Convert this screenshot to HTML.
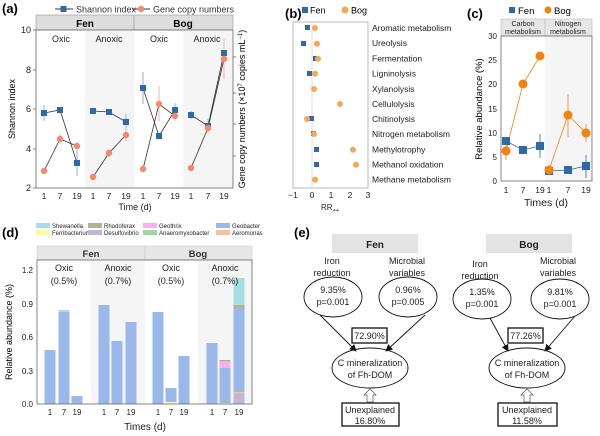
<!DOCTYPE html>
<html><head><meta charset="utf-8"><style>
body{margin:0;background:#fff}
svg{font-family:"Liberation Sans",sans-serif;display:block}
</style></head><body>
<svg width="600" height="436" viewBox="0 0 600 436" xmlns="http://www.w3.org/2000/svg">
<defs>
<marker id="ar" markerWidth="8" markerHeight="8" refX="7" refY="4" orient="auto"><path d="M0,0 L8,4 L0,8 z" fill="#111"/></marker>
</defs>
<!-- ===== Panel a ===== -->
<text x="2" y="13" font-size="13" font-weight="bold">(a)</text>
<line x1="55" y1="9" x2="73" y2="9" stroke="#333"/><rect x="60.5" y="6" width="6" height="6" fill="#2e6aa5"/>
<text x="76" y="12.5" font-size="9" fill="#333">Shannon index</text>
<line x1="132" y1="9" x2="150" y2="9" stroke="#333"/><circle cx="141" cy="9" r="3.2" fill="#f4896f"/>
<text x="153" y="12.5" font-size="9" fill="#333">Gene copy numbers</text>
<rect x="36" y="15" width="98" height="15" fill="#ddd" stroke="#999" stroke-width="0.6"/>
<rect x="134" y="15" width="99" height="15" fill="#ddd" stroke="#999" stroke-width="0.6"/>
<text x="85" y="27" font-size="10" font-weight="bold" text-anchor="middle">Fen</text>
<text x="183" y="27" font-size="10" font-weight="bold" text-anchor="middle">Bog</text>
<rect x="85" y="30" width="49" height="158" fill="#f5f5f5"/>
<rect x="183" y="30" width="50" height="158" fill="#f5f5f5"/>
<rect x="36" y="30" width="197" height="158" fill="none" stroke="#666" stroke-width="0.8"/>
<g font-size="9" fill="#222" text-anchor="middle">
<text x="61" y="42">Oxic</text><text x="109" y="42">Anoxic</text><text x="159" y="42">Oxic</text><text x="207" y="42">Anoxic</text>
</g>
<g font-size="9" fill="#222" text-anchor="end">
<text x="31" y="33">10</text><text x="31" y="73">8</text><text x="31" y="112">6</text><text x="31" y="152">4</text><text x="31" y="191">2</text>
</g>
<g stroke="#666" stroke-width="0.8">
<line x1="33" y1="30" x2="36" y2="30"/><line x1="33" y1="70" x2="36" y2="70"/><line x1="33" y1="109" x2="36" y2="109"/><line x1="33" y1="149" x2="36" y2="149"/><line x1="33" y1="188" x2="36" y2="188"/>
<line x1="233" y1="57" x2="236" y2="57"/><line x1="233" y1="93" x2="236" y2="93"/><line x1="233" y1="124" x2="236" y2="124"/><line x1="233" y1="156" x2="236" y2="156"/>
</g>
<text transform="translate(15,109) rotate(-90)" font-size="9" text-anchor="middle">Shannon index</text>
<text transform="translate(245,109) rotate(-90)" font-size="9" text-anchor="middle">Gene copy numbers (×10<tspan font-size="6" dy="-3">7</tspan><tspan dy="3"> copies mL</tspan><tspan font-size="6" dy="-3">−1</tspan><tspan dy="3">)</tspan></text>
<g font-size="8.5" text-anchor="middle" fill="#222">
<text x="44" y="199">1</text><text x="60" y="199">7</text><text x="77" y="199">19</text>
<text x="93" y="199">1</text><text x="109" y="199">7</text><text x="126" y="199">19</text>
<text x="143" y="199">1</text><text x="159" y="199">7</text><text x="175" y="199">19</text>
<text x="191" y="199">1</text><text x="208" y="199">7</text><text x="224" y="199">19</text>
<text x="135" y="210" font-size="9">Time (d)</text>
</g>
<g stroke="#333" stroke-width="0.8" fill="none">
<polyline points="44,113 60,110 77,163"/><polyline points="93,111 109,112 126,122"/><polyline points="143,88 159,136 175,110"/><polyline points="191,115 208,126 224,53"/>
<polyline points="44,171 60,139 77,146"/><polyline points="93,177 109,153 126,135"/><polyline points="143,169 159,104 175,116"/><polyline points="191,168 208,128 224,59"/>
</g>
<g stroke="#8fb2d6" stroke-width="1">
<line x1="44" y1="105" x2="44" y2="121"/><line x1="60" y1="107" x2="60" y2="113"/><line x1="77" y1="150" x2="77" y2="176"/><line x1="126" y1="114" x2="126" y2="130"/>
<line x1="143" y1="72" x2="143" y2="104"/><line x1="175" y1="103" x2="175" y2="117"/><line x1="191" y1="111" x2="191" y2="119"/><line x1="208" y1="119" x2="208" y2="133"/><line x1="224" y1="49" x2="224" y2="57"/>
</g>
<g stroke="#f7b3a3" stroke-width="1">
<line x1="44" y1="168" x2="44" y2="174"/><line x1="60" y1="134" x2="60" y2="144"/><line x1="77" y1="143" x2="77" y2="149"/><line x1="109" y1="149" x2="109" y2="157"/><line x1="126" y1="129" x2="126" y2="141"/>
<line x1="159" y1="86" x2="159" y2="122"/><line x1="175" y1="111" x2="175" y2="121"/><line x1="208" y1="122" x2="208" y2="134"/><line x1="224" y1="39" x2="224" y2="79"/>
</g>
<g fill="#2e6aa5">
<rect x="41" y="110" width="6" height="6"/><rect x="57" y="107" width="6" height="6"/><rect x="74" y="160" width="6" height="6"/>
<rect x="90" y="108" width="6" height="6"/><rect x="106" y="109" width="6" height="6"/><rect x="123" y="119" width="6" height="6"/>
<rect x="140" y="85" width="6" height="6"/><rect x="156" y="133" width="6" height="6"/><rect x="172" y="107" width="6" height="6"/>
<rect x="188" y="112" width="6" height="6"/><rect x="205" y="123" width="6" height="6"/><rect x="221" y="50" width="6" height="6"/>
</g>
<g fill="#f4896f">
<circle cx="44" cy="171" r="3.2"/><circle cx="60" cy="139" r="3.2"/><circle cx="77" cy="146" r="3.2"/>
<circle cx="93" cy="177" r="3.2"/><circle cx="109" cy="153" r="3.2"/><circle cx="126" cy="135" r="3.2"/>
<circle cx="143" cy="169" r="3.2"/><circle cx="159" cy="104" r="3.2"/><circle cx="175" cy="116" r="3.2"/>
<circle cx="191" cy="168" r="3.2"/><circle cx="208" cy="128" r="3.2"/><circle cx="224" cy="59" r="3.2"/>
</g>

<!-- ===== Panel b ===== -->
<text x="285" y="18" font-size="13" font-weight="bold">(b)</text>
<rect x="302" y="7" width="6" height="6" fill="#2e6aa5"/><text x="310" y="13.5" font-size="9">Fen</text>
<circle cx="345" cy="10" r="3.5" fill="#f7a850"/><text x="351" y="13.5" font-size="9">Bog</text>
<rect x="293" y="22" width="75" height="166" fill="none" stroke="#aaa" stroke-width="0.8"/>
<line x1="312" y1="22" x2="312" y2="188" stroke="#ddd"/>
<g font-size="8.5" fill="#222" text-anchor="middle">
<text x="293" y="198">−1</text><text x="312" y="198">0</text><text x="331" y="198">1</text><text x="350" y="198">2</text><text x="368" y="198">3</text>
<text x="330" y="210" font-size="8">RR<tspan font-size="5.5" dy="2">++</tspan></text>
</g>
<g font-size="8.5" fill="#222">
<text x="372" y="31">Aromatic metabolism</text><text x="372" y="46">Ureolysis</text><text x="372" y="61.5">Fermentation</text><text x="372" y="76.5">Ligninolysis</text><text x="372" y="92">Xylanolysis</text><text x="372" y="107">Cellulolysis</text><text x="372" y="122">Chitinolysis</text><text x="372" y="137">Nitrogen metabolism</text><text x="372" y="152.5">Methylotrophy</text><text x="372" y="167.5">Methanol oxidation</text><text x="372" y="182.5">Methane metabolism</text>
</g>
<g fill="#2e6aa5">
<rect x="305" y="25" width="5" height="5"/><rect x="301" y="41" width="5" height="5"/><rect x="313" y="56" width="5" height="5"/><rect x="307" y="71" width="5" height="5"/><rect x="309" y="116" width="5" height="5"/><rect x="311" y="131" width="5" height="5"/><rect x="314" y="147" width="5" height="5"/><rect x="314" y="162" width="5" height="5"/>
</g>
<g fill="#f7a850">
<circle cx="315" cy="28" r="3"/><circle cx="317" cy="43.7" r="3"/><circle cx="318" cy="58.7" r="3"/><circle cx="315" cy="73.7" r="3"/><circle cx="314" cy="89" r="3"/><circle cx="340" cy="104" r="3"/><circle cx="307" cy="119" r="3"/><circle cx="314" cy="134" r="3"/><circle cx="353" cy="149.7" r="3"/><circle cx="356" cy="164.7" r="3"/><circle cx="315" cy="179.7" r="3"/>
</g>

<!-- ===== Panel c ===== -->
<text x="467" y="18" font-size="13" font-weight="bold">(c)</text>
<rect x="509" y="7" width="6" height="6" fill="#2e6aa5"/><text x="518" y="14" font-size="9.5">Fen</text>
<circle cx="548" cy="10" r="3.5" fill="#f5820f"/><text x="554" y="14" font-size="9.5">Bog</text>
<rect x="501" y="19" width="44" height="17" fill="#e6e6e6" stroke="#bbb" stroke-width="0.6"/>
<rect x="545" y="19" width="47" height="17" fill="#e6e6e6" stroke="#bbb" stroke-width="0.6"/>
<g font-size="7" text-anchor="middle" fill="#222"><text x="523" y="26">Carbon</text><text x="523" y="34">metabolism</text><text x="568" y="26">Nitrogen</text><text x="568" y="34">metabolism</text></g>
<rect x="545" y="36" width="47" height="145" fill="#f5f5f5"/>
<rect x="501" y="36" width="91" height="145" fill="none" stroke="#666" stroke-width="0.8"/>
<g font-size="8" text-anchor="end" fill="#222">
<text x="497" y="39">30</text><text x="497" y="63">25</text><text x="497" y="87">20</text><text x="497" y="112">15</text><text x="497" y="136">10</text><text x="497" y="160">5</text><text x="497" y="184">0</text>
</g>
<text transform="translate(482,109) rotate(-90)" font-size="9.5" text-anchor="middle">Relative abundance (%)</text>
<g font-size="8.5" text-anchor="middle" fill="#222">
<text x="506" y="193">1</text><text x="523" y="193">7</text><text x="540" y="193">19</text><text x="549" y="193">1</text><text x="568" y="193">7</text><text x="586" y="193">19</text>
<text x="546" y="206" font-size="10.5">Times (d)</text>
</g>
<g stroke="#2e6aa5" stroke-width="0.8" fill="none"><polyline points="506,141 523,150 540,146"/><polyline points="549,171 568,170 586,166"/>
<line x1="540" y1="134" x2="540" y2="158"/><line x1="586" y1="155" x2="586" y2="178"/><line x1="523" y1="146" x2="523" y2="154"/></g>
<g stroke="#f5820f" stroke-width="0.8" fill="none"><polyline points="506,151 523,84 540,56"/><polyline points="549,170 568,115 586,133"/>
<line x1="506" y1="141" x2="506" y2="160"/><line x1="568" y1="94" x2="568" y2="137"/><line x1="586" y1="124" x2="586" y2="142"/></g>
<g fill="#2e6aa5"><rect x="502" y="137" width="8" height="8"/><rect x="519" y="146" width="8" height="8"/><rect x="536" y="142" width="8" height="8"/><rect x="545" y="167" width="8" height="8"/><rect x="564" y="166" width="8" height="8"/><rect x="582" y="162" width="8" height="8"/></g>
<g fill="#f5820f"><circle cx="506" cy="151" r="4.5"/><circle cx="523" cy="84" r="4.5"/><circle cx="540" cy="56" r="4.5"/><circle cx="549" cy="170" r="4.5"/><circle cx="568" cy="115" r="4.5"/><circle cx="586" cy="133" r="4.5"/></g>

<!-- ===== Panel d ===== -->
<text x="2" y="237" font-size="13" font-weight="bold">(d)</text>
<g font-size="6" fill="#222">
<rect x="36" y="223" width="14" height="5" fill="#a9dde6"/><text x="52" y="228">Shewanella</text>
<rect x="36" y="230" width="14" height="5" fill="#fbfaa0"/><text x="52" y="235">Ferribacterium</text>
<rect x="88" y="223" width="14" height="5" fill="#afb38e"/><text x="104" y="228">Rhodoferax</text>
<rect x="88" y="230" width="14" height="5" fill="#c2b3d8"/><text x="104" y="235">Desulfovibrio</text>
<rect x="143" y="223" width="14" height="5" fill="#f5b0f0"/><text x="159" y="228">Geothrix</text>
<rect x="143" y="230" width="14" height="5" fill="#9fd6a5"/><text x="159" y="235">Anaeromyxobacter</text>
<rect x="216" y="223" width="14" height="5" fill="#9ab8ea"/><text x="232" y="228">Geobacter</text>
<rect x="216" y="230" width="14" height="5" fill="#f7c29b"/><text x="232" y="235">Aeromonas</text>
</g>
<rect x="37" y="246" width="108" height="14" fill="#e6e6e6" stroke="#ccc" stroke-width="0.6"/>
<rect x="145" y="246" width="107" height="14" fill="#e6e6e6" stroke="#ccc" stroke-width="0.6"/>
<text x="91" y="257" font-size="9.5" font-weight="bold" text-anchor="middle" fill="#333">Fen</text>
<text x="198" y="257" font-size="9.5" font-weight="bold" text-anchor="middle" fill="#333">Bog</text>
<rect x="91" y="260" width="54" height="144" fill="#f5f5f5"/>
<rect x="198" y="260" width="54" height="144" fill="#f5f5f5"/>
<g fill="#9ab8ea">
<rect x="44.5" y="350" width="11" height="54"/><rect x="58.5" y="312" width="11" height="92"/><rect x="71.5" y="396" width="11" height="8"/>
<rect x="98.5" y="305" width="11" height="99"/><rect x="111.5" y="341" width="11" height="63"/><rect x="125.5" y="322" width="11" height="82"/>
<rect x="152.5" y="312" width="11" height="92"/><rect x="165.5" y="388" width="11" height="14"/><rect x="178.5" y="356" width="11" height="48"/>
<rect x="206.5" y="343" width="11" height="61"/><rect x="219.5" y="368" width="11" height="35"/><rect x="233.5" y="308" width="11" height="84"/>
</g>
<rect x="58.5" y="310" width="11" height="2" fill="#a9dde6"/>
<rect x="233.5" y="278" width="11" height="27" fill="#a9dde6"/>
<rect x="233.5" y="305" width="11" height="3" fill="#afb38e"/>
<rect x="233.5" y="392" width="11" height="1.5" fill="#f7c29b"/>
<rect x="233.5" y="393.5" width="11" height="10.5" fill="#c2b3d8"/>
<rect x="219.5" y="361" width="11" height="7" fill="#f5b0f0"/>
<rect x="219.5" y="360" width="11" height="1.2" fill="#afb38e"/>
<rect x="219.5" y="403" width="11" height="1" fill="#fbfaa0"/>
<rect x="165.5" y="402" width="11" height="2" fill="#fbfaa0"/>
<rect x="71.5" y="403" width="11" height="1" fill="#c2b3d8"/>
<rect x="37" y="260" width="215" height="144" fill="none" stroke="#666" stroke-width="0.8"/>
<g font-size="9" text-anchor="middle" fill="#222">
<text x="64" y="271">Oxic</text><text x="64" y="284">(0.5%)</text>
<text x="118" y="271">Anoxic</text><text x="118" y="284">(0.7%)</text>
<text x="171" y="271">Oxic</text><text x="171" y="284">(0.5%)</text>
<text x="225" y="271">Anoxic</text><text x="225" y="284">(0.7%)</text>
</g>
<g font-size="8" text-anchor="end" fill="#222">
<text x="33" y="273">1.2</text><text x="33" y="307">0.9</text><text x="33" y="340">0.6</text><text x="33" y="374">0.3</text><text x="33" y="407">0.0</text>
</g>
<text transform="translate(12,332) rotate(-90)" font-size="9" text-anchor="middle">Relative abundance (%)</text>
<g font-size="8" text-anchor="middle" fill="#222">
<text x="50" y="415">1</text><text x="64" y="415">7</text><text x="77" y="415">19</text>
<text x="104" y="415">1</text><text x="117" y="415">7</text><text x="131" y="415">19</text>
<text x="158" y="415">1</text><text x="171" y="415">7</text><text x="184" y="415">19</text>
<text x="212" y="415">1</text><text x="225" y="415">7</text><text x="239" y="415">19</text>
<text x="145" y="430" font-size="10">Times (d)</text>
</g>

<!-- ===== Panel e ===== -->
<text x="294" y="237" font-size="13" font-weight="bold">(e)</text>
<g font-size="9" fill="#222" text-anchor="middle">
<rect x="332" y="234" width="86" height="19" fill="#e3e3e3"/><text x="375" y="248" font-size="10" font-weight="bold">Fen</text>
<rect x="486" y="234" width="86" height="19" fill="#e3e3e3"/><text x="529" y="248" font-size="10" font-weight="bold">Bog</text>
<text x="332" y="264">Iron</text><text x="332" y="276">reduction</text>
<text x="407" y="264">Microbial</text><text x="407" y="276">variables</text>
<text x="480" y="267">Iron</text><text x="480" y="279">reduction</text>
<text x="558" y="264">Microbial</text><text x="558" y="276">variables</text>
<g fill="none" stroke="#111" stroke-width="0.9">
<ellipse cx="333" cy="297" rx="29" ry="20"/><ellipse cx="408" cy="297" rx="29" ry="20"/>
<ellipse cx="370" cy="368" rx="38" ry="20"/>
<ellipse cx="482" cy="299" rx="29" ry="20"/><ellipse cx="560" cy="299" rx="29" ry="20"/>
<ellipse cx="527" cy="368" rx="38" ry="20"/>
<line x1="320" y1="315" x2="356" y2="351" marker-end="url(#ar)"/><line x1="425" y1="315" x2="386" y2="351" marker-end="url(#ar)"/>
<line x1="490" y1="318" x2="508" y2="351" marker-end="url(#ar)"/><line x1="575" y1="316" x2="545" y2="351" marker-end="url(#ar)"/>
<rect x="352" y="328" width="35" height="15" fill="#fff" stroke-width="1.3"/>
<rect x="508" y="328" width="35" height="15" fill="#fff" stroke-width="1.3"/>
<rect x="342" y="403" width="57" height="23" fill="#fff" stroke-width="1.3"/>
<rect x="498" y="403" width="59" height="23" fill="#fff" stroke-width="1.3"/>
<path d="M367,402 V395 H364 L370,389 L376,395 H373 V402 Z" stroke="#555" stroke-width="0.7"/>
<path d="M524,402 V395 H521 L527,389 L533,395 H530 V402 Z" stroke="#555" stroke-width="0.7"/>
</g>
<text x="333" y="293">9.35%</text><text x="333" y="305">p=0.001</text>
<text x="408" y="293">0.96%</text><text x="408" y="305">p=0.005</text>
<text x="482" y="295">1.35%</text><text x="482" y="307">p=0.001</text>
<text x="560" y="295">9.81%</text><text x="560" y="307">p=0.001</text>
<text x="369.5" y="339">72.90%</text><text x="525.5" y="339">77.26%</text>
<text x="370" y="366">C mineralization</text><text x="370" y="378">of Fh-DOM</text>
<text x="527" y="366">C mineralization</text><text x="527" y="378">of Fh-DOM</text>
<text x="370" y="413">Unexplained</text><text x="370" y="424">16.80%</text>
<text x="527" y="413">Unexplained</text><text x="527" y="424">11.58%</text>
</g>
</svg>
</body></html>
